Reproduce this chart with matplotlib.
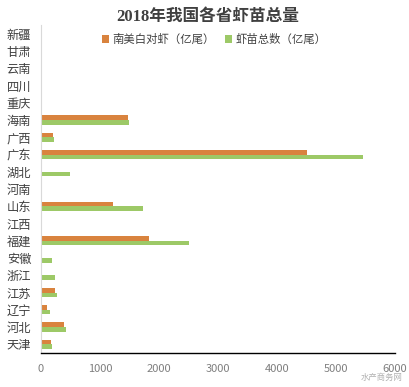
import matplotlib.pyplot as plt
import numpy as np

plt.rcParams['font.family'] = ['Noto Sans CJK SC', 'DejaVu Sans']

provinces = ['新疆', '甘肃', '云南', '四川', '重庆', '海南', '广西', '广东', '湖北',
             '河南', '山东', '江西', '福建', '安徽', '浙江', '江苏', '辽宁', '河北', '天津']
# 南美白对虾 (亿尾)
vannamei = [5, 0, 0, 0, 0, 1480, 200, 4500, 0, 0, 1220, 0, 1830, 0, 15, 235, 100, 390, 170]
# 虾苗总数 (亿尾)
total = [25, 0, 0, 0, 0, 1500, 220, 5450, 490, 20, 1730, 15, 2510, 190, 240, 270, 150, 420, 185]
xticks = [0, 1000, 2000, 3000, 4000, 5000, 6000]

c_orange = '#D9833E'
c_green = '#9DC967'

fig = plt.figure(figsize=(4.09, 3.87), dpi=100)
ax = fig.add_axes([0.100, 0.088, 0.866, 0.847])

n = len(provinces)
y = np.arange(n)
h = 0.27
ax.barh(y - h / 2, vannamei, height=h, color=c_orange, label='南美白对虾（亿尾）')
ax.barh(y + h / 2, total, height=h, color=c_green, label='虾苗总数（亿尾）')

ax.set_ylim(n - 0.5, -0.5)
ax.set_xlim(0, 6000)
ax.set_yticks(y)
ax.set_yticklabels(provinces, fontsize=8.8, color='#404040')
ax.set_xticks(xticks)
ax.set_xticklabels([str(t) for t in xticks], fontsize=8, color='#7f7f7f')
ax.tick_params(axis='both', length=0)
ax.tick_params(axis='x', pad=8)
ax.tick_params(axis='y', pad=7)

for s in ['top', 'right']:
    ax.spines[s].set_visible(False)
ax.spines['left'].set_color('#d9d9d9')
ax.spines['bottom'].set_color('black')
ax.spines['bottom'].set_linewidth(1.0)

fig.text(0.508, 0.957, '2018年我国各省虾苗总量', ha='center', va='center',
         fontsize=12, fontweight='bold', color='#404040',
         family=['Liberation Serif', 'Noto Sans CJK SC'])

ax.legend(loc='upper center', bbox_to_anchor=(0.49, 1.005), ncol=2, frameon=False,
          fontsize=8.2, handlelength=0.6, handleheight=0.6, handletextpad=0.3,
          columnspacing=0.9, labelcolor='#404040')

# watermark
fig.text(0.985, 0.012, '水产商务网', ha='right', va='bottom', fontsize=6,
         color='#b0b0b0')

fig.savefig('out.png', dpi=100)
